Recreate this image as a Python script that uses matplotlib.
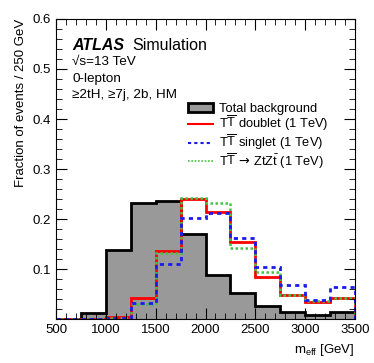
import numpy as np
import matplotlib
matplotlib.use('Agg')
import matplotlib.pyplot as plt
from matplotlib.patches import Patch
from matplotlib.lines import Line2D
from matplotlib.ticker import MultipleLocator

plt.rcParams['font.family'] = ['Liberation Sans', 'DejaVu Sans']
plt.rcParams['mathtext.fontset'] = 'custom'
plt.rcParams['mathtext.rm'] = 'Liberation Sans'
plt.rcParams['mathtext.it'] = 'Liberation Sans:italic'
plt.rcParams['mathtext.sf'] = 'DejaVu Sans'

# bin edges of m_eff [GeV]
edges = [500, 750, 1000, 1250, 1500, 1750, 2000, 2250, 2500, 2750, 3000, 3250, 3500]

# fraction of events per bin
background = [0.001, 0.012, 0.139, 0.233, 0.237, 0.170, 0.089, 0.053, 0.027, 0.015, 0.009, 0.014]
doublet = [0.001, 0.001, 0.005, 0.043, 0.136, 0.240, 0.214, 0.155, 0.084, 0.048, 0.034, 0.043]
singlet = [0.001, 0.001, 0.002, 0.033, 0.111, 0.203, 0.213, 0.162, 0.105, 0.069, 0.039, 0.065]
ztzt = [0.001, 0.001, 0.003, 0.030, 0.132, 0.243, 0.233, 0.143, 0.095, 0.048, 0.036, 0.043]

fig = plt.figure(figsize=(3.74, 3.63), dpi=100)
ax = fig.add_axes([0.150, 0.120, 0.799, 0.828])

ax.stairs(background, edges, fill=True, color='#999999')
ax.stairs(background, edges, color='black', lw=2, baseline=0)
ax.stairs(doublet, edges, color='red', lw=2)
ax.stairs(ztzt, edges, color='#44c444', lw=1.8, ls=(0, (1, 1)))
ax.stairs(singlet, edges, color='#1a1aee', lw=2, ls=(0, (1.5, 1.5)))

ax.set_xlim(500, 3500)
ax.set_ylim(0, 0.6)
ax.set_yticks([0.1, 0.2, 0.3, 0.4, 0.5, 0.6])
ax.set_yticklabels(['0.1', '0.2', '0.3', '0.4', '0.5', '0.6'])
ax.xaxis.set_major_locator(MultipleLocator(500))
ax.xaxis.set_minor_locator(MultipleLocator(100))
ax.yaxis.set_minor_locator(MultipleLocator(0.02))
ax.tick_params(which='both', direction='in', top=True, right=True, labelsize=9.5)
ax.tick_params(which='major', length=8)
ax.tick_params(which='minor', length=4)

ax.set_xlabel(r'm$_{\mathrm{eff}}$ [GeV]', fontsize=9.5, loc='right')
ax.set_ylabel('Fraction of events / 250 GeV', fontsize=9.5, loc='top')

ax.text(0.054, 0.895, 'ATLAS', transform=ax.transAxes, fontsize=11.5,
        fontweight='bold', fontstyle='italic')
ax.text(0.255, 0.895, 'Simulation', transform=ax.transAxes, fontsize=11.5)
ax.text(0.054, 0.845, '√s=13 TeV', transform=ax.transAxes, fontsize=9.7)
ax.text(0.054, 0.79, '0-lepton', transform=ax.transAxes, fontsize=9.7)
ax.text(0.054, 0.737, '≥2tH, ≥7j, 2b, HM', transform=ax.transAxes, fontsize=9.7)

handles = [
    Patch(facecolor='#999999', edgecolor='black', lw=2),
    Line2D([], [], color='red', lw=1.5),
    Line2D([], [], color='#1a1aee', lw=1.5, ls=(0, (1.5, 1.5))),
    Line2D([], [], color='#44c444', lw=1.2, ls=(0, (1, 1))),
]
labels = [
    'Total background',
    r'T$\overline{\mathrm{T}}$ doublet (1 TeV)',
    r'T$\overline{\mathrm{T}}$ singlet (1 TeV)',
    r'T$\overline{\mathrm{T}}\,\mathsf{\rightarrow}\,\mathrm{ZtZ}\bar{\mathrm{t}}$ (1 TeV)',
]
ax.legend(handles, labels, loc='upper left', bbox_to_anchor=(0.42, 0.742),
          frameon=False, fontsize=9.3, handlelength=1.9, handletextpad=0.5,
          labelspacing=-0.05, borderpad=0)

fig.savefig('out.png', dpi=100)
